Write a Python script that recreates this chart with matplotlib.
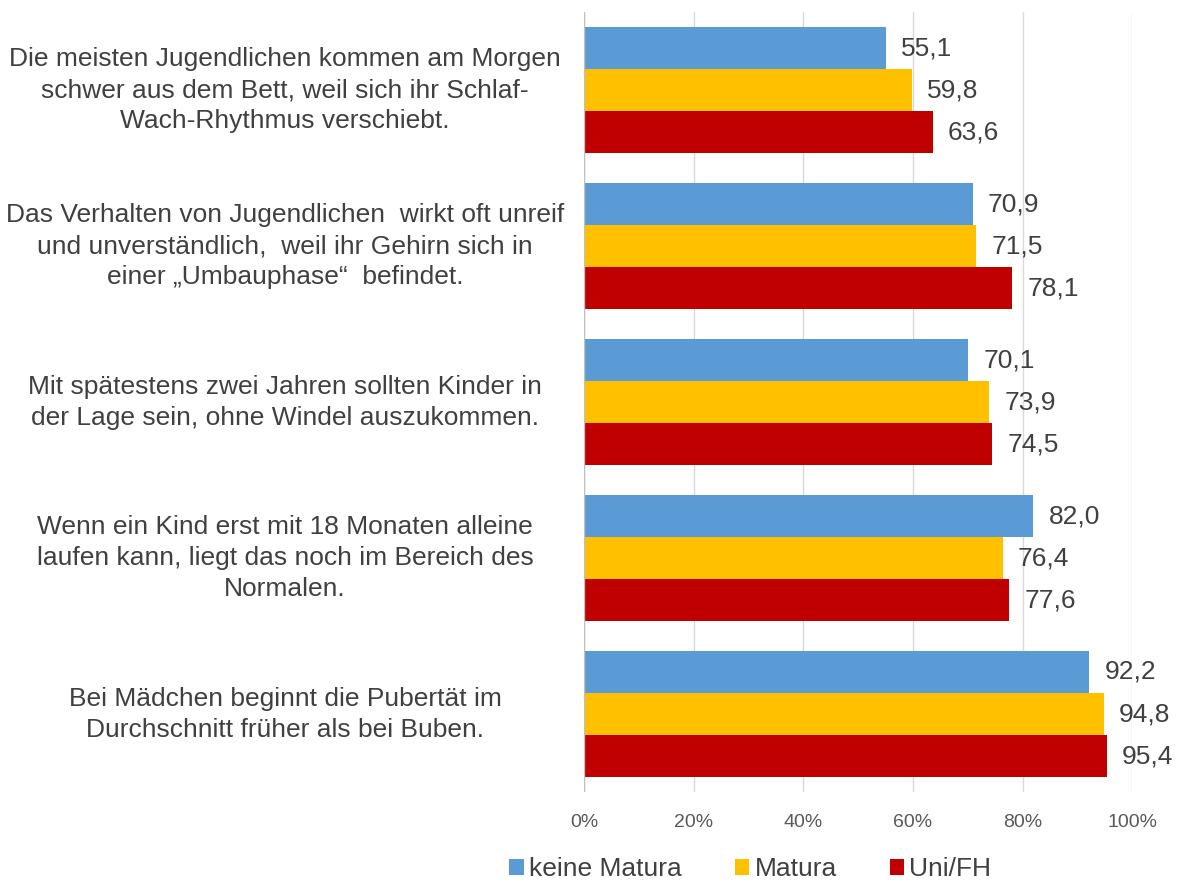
import numpy as np
import matplotlib.pyplot as plt
from matplotlib.patches import Patch
from matplotlib.transforms import blended_transform_factory

plt.rcParams['font.family'] = ['Liberation Sans', 'DejaVu Sans']

statements = [
    "Die meisten Jugendlichen kommen am Morgen\nschwer aus dem Bett, weil sich ihr Schlaf-\nWach-Rhythmus verschiebt.",
    "Das Verhalten von Jugendlichen  wirkt oft unreif\nund unverständlich,  weil ihr Gehirn sich in\neiner \u201eUmbauphase\u201c  befindet.",
    "Mit spätestens zwei Jahren sollten Kinder in\nder Lage sein, ohne Windel auszukommen.",
    "Wenn ein Kind erst mit 18 Monaten alleine\nlaufen kann, liegt das noch im Bereich des\nNormalen.",
    "Bei Mädchen beginnt die Pubertät im\nDurchschnitt früher als bei Buben.",
]
series_names = ["keine Matura", "Matura", "Uni/FH"]
keine_matura = [55.1, 70.9, 70.1, 82.0, 92.2]
matura = [59.8, 71.5, 73.9, 76.4, 94.8]
uni_fh = [63.6, 78.1, 74.5, 77.6, 95.4]
x_ticks = [0, 20, 40, 60, 80, 100]

colors = ['#5B9BD5', '#FFC000', '#C00000']
text_col = '#404040'

fig = plt.figure(figsize=(11.78, 8.84), dpi=100)
ax = fig.add_axes([0.496, 0.104, 0.465, 0.882])

y = np.arange(len(statements))
h = 0.27
for i, vals in enumerate([keine_matura, matura, uni_fh]):
    pos = y + (i - 1) * h
    ax.barh(pos, vals, height=h, color=colors[i], zorder=3)
    for p, v in zip(pos, vals):
        ax.text(v + 2.8, p, f"{v:.1f}".replace('.', ','), va='center', ha='left',
                fontsize=19, color=text_col)

ax.set_ylim(len(statements) - 0.5, -0.5)
ax.set_xlim(0, 100)
ax.set_xticks(x_ticks)
ax.set_xticklabels([f"{t}%" for t in x_ticks])
ax.tick_params(axis='x', length=0, labelsize=14, labelcolor='#595959', pad=16)
ax.set_yticks([])
ax.grid(axis='x', color='#D9D9D9', linewidth=1, zorder=0)
for s in ['top', 'right', 'bottom', 'left']:
    ax.spines[s].set_visible(False)
ax.axvline(0, color='#BFBFBF', linewidth=1, zorder=4)

trans = blended_transform_factory(fig.transFigure, ax.transData)
for yi, lab in zip(y, statements):
    ax.text(0.242, yi, lab, transform=trans, ha='center', va='center',
            multialignment='center', fontsize=19, color=text_col, linespacing=1.37)

handles = [Patch(facecolor=c, edgecolor='none') for c in colors]
fig.legend(handles, series_names, loc='center', bbox_to_anchor=(0.637, 0.017),
           ncol=3, frameon=False, fontsize=19, handlelength=0.55, handleheight=0.55,
           handletextpad=0.2, columnspacing=2.0, labelcolor=text_col,
           borderpad=0, borderaxespad=0)

fig.savefig('out.png', dpi=100)
